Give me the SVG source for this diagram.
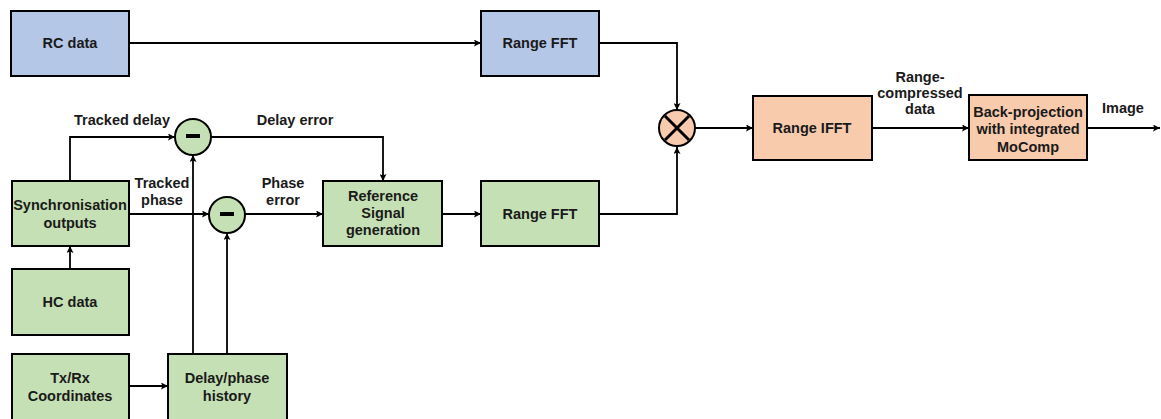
<svg xmlns="http://www.w3.org/2000/svg" width="1161" height="419" viewBox="0 0 1161 419">
  <style>
    .box { stroke: #000; stroke-width: 2; }
    .blue { fill: #b4c7e7; }
    .green { fill: #c5e0b4; }
    .orange { fill: #f8cbad; }
    .lbl { font-family: "Liberation Sans", Arial, sans-serif; font-weight: bold; font-size: 14.5px; fill: #1a1a1a; text-anchor: middle; }
    .wire { fill: none; stroke: #000; stroke-width: 1.8; }
    .arr { marker-end: url(#head); }
  </style>
  <defs>
    <marker id="head" viewBox="0 0 10 10" refX="10" refY="5" markerWidth="7" markerHeight="7" markerUnits="userSpaceOnUse" orient="auto">
      <path d="M0,0 L10,5 L0,10 L2,5 Z" fill="#000"/>
    </marker>
  </defs>

  <rect width="1161" height="419" fill="#fff"/>

  <!-- connectors -->
  <g id="connectors">
    <path class="wire arr" d="M129,43 H481"/>
    <path class="wire arr" d="M599,43 H677 V110"/>
    <path class="wire arr" d="M70,181 V137 H175"/>
    <path class="wire arr" d="M211,137 H383 V181"/>
    <path class="wire arr" d="M129,214 H209"/>
    <path class="wire arr" d="M245,214 H323"/>
    <path class="wire arr" d="M442,214 H481"/>
    <path class="wire arr" d="M599,214 H677 V147"/>
    <path class="wire arr" d="M70,269 V246"/>
    <path class="wire arr" d="M129,386 H168"/>
    <path class="wire arr" d="M193,354 V155"/>
    <path class="wire arr" d="M227,354 V233"/>
    <path class="wire arr" d="M695,128 H753"/>
    <path class="wire arr" d="M872,128 H969"/>
    <path class="wire arr" d="M1087,128 H1160"/>
  </g>

  <!-- connector labels -->
  <g id="labels">
    <text class="lbl" x="122" y="125">Tracked delay</text>
    <text class="lbl" x="295" y="125">Delay error</text>
    <text class="lbl" x="162" y="188">Tracked</text>
    <text class="lbl" x="162" y="205">phase</text>
    <text class="lbl" x="283" y="188">Phase</text>
    <text class="lbl" x="283" y="205">error</text>
    <text class="lbl" x="920" y="82">Range-</text>
    <text class="lbl" x="920" y="98">compressed</text>
    <text class="lbl" x="920" y="114">data</text>
    <text class="lbl" x="1123" y="113">Image</text>
  </g>

  <g id="rc-data">
    <rect class="box blue" x="11" y="11" width="118" height="65"/>
    <text class="lbl" x="70" y="48">RC data</text>
  </g>

  <g id="range-fft-top">
    <rect class="box blue" x="481" y="11" width="118" height="65"/>
    <text class="lbl" x="540" y="48">Range FFT</text>
  </g>

  <g id="sync-outputs">
    <rect class="box green" x="12" y="181" width="117" height="65"/>
    <text class="lbl" x="70" y="210">Synchronisation</text>
    <text class="lbl" x="70" y="228">outputs</text>
  </g>

  <g id="hc-data">
    <rect class="box green" x="12" y="269" width="117" height="66"/>
    <text class="lbl" x="70" y="307">HC data</text>
  </g>

  <g id="txrx-coordinates">
    <rect class="box green" x="12" y="354" width="117" height="67"/>
    <text class="lbl" x="70" y="383">Tx/Rx</text>
    <text class="lbl" x="70" y="401">Coordinates</text>
  </g>

  <g id="delay-phase-history">
    <rect class="box green" x="168" y="354" width="119" height="67"/>
    <text class="lbl" x="227" y="383">Delay/phase</text>
    <text class="lbl" x="227" y="401">history</text>
  </g>

  <g id="sub-delay">
    <circle class="box green" cx="193" cy="137" r="18"/>
    <rect x="186" y="134" width="14" height="4" fill="#000"/>
  </g>

  <g id="sub-phase">
    <circle class="box green" cx="227" cy="215" r="18"/>
    <rect x="220" y="212" width="14" height="4" fill="#000"/>
  </g>

  <g id="reference-signal">
    <rect class="box green" x="323" y="181" width="119" height="65"/>
    <text class="lbl" x="383" y="201">Reference</text>
    <text class="lbl" x="383" y="218">Signal</text>
    <text class="lbl" x="383" y="235">generation</text>
  </g>

  <g id="range-fft-bottom">
    <rect class="box green" x="481" y="181" width="118" height="65"/>
    <text class="lbl" x="540" y="219">Range FFT</text>
  </g>

  <g id="multiplier">
    <circle class="box orange" cx="677" cy="128" r="18"/>
    <path d="M665,116 L689,140 M689,116 L665,140" stroke="#000" stroke-width="3"/>
  </g>

  <g id="range-ifft">
    <rect class="box orange" x="753" y="96" width="119" height="64"/>
    <text class="lbl" x="812" y="133">Range IFFT</text>
  </g>

  <g id="back-projection">
    <rect class="box orange" x="969" y="95" width="118" height="65"/>
    <text class="lbl" x="1028" y="117">Back-projection</text>
    <text class="lbl" x="1028" y="134">with integrated</text>
    <text class="lbl" x="1028" y="152">MoComp</text>
  </g>
</svg>
